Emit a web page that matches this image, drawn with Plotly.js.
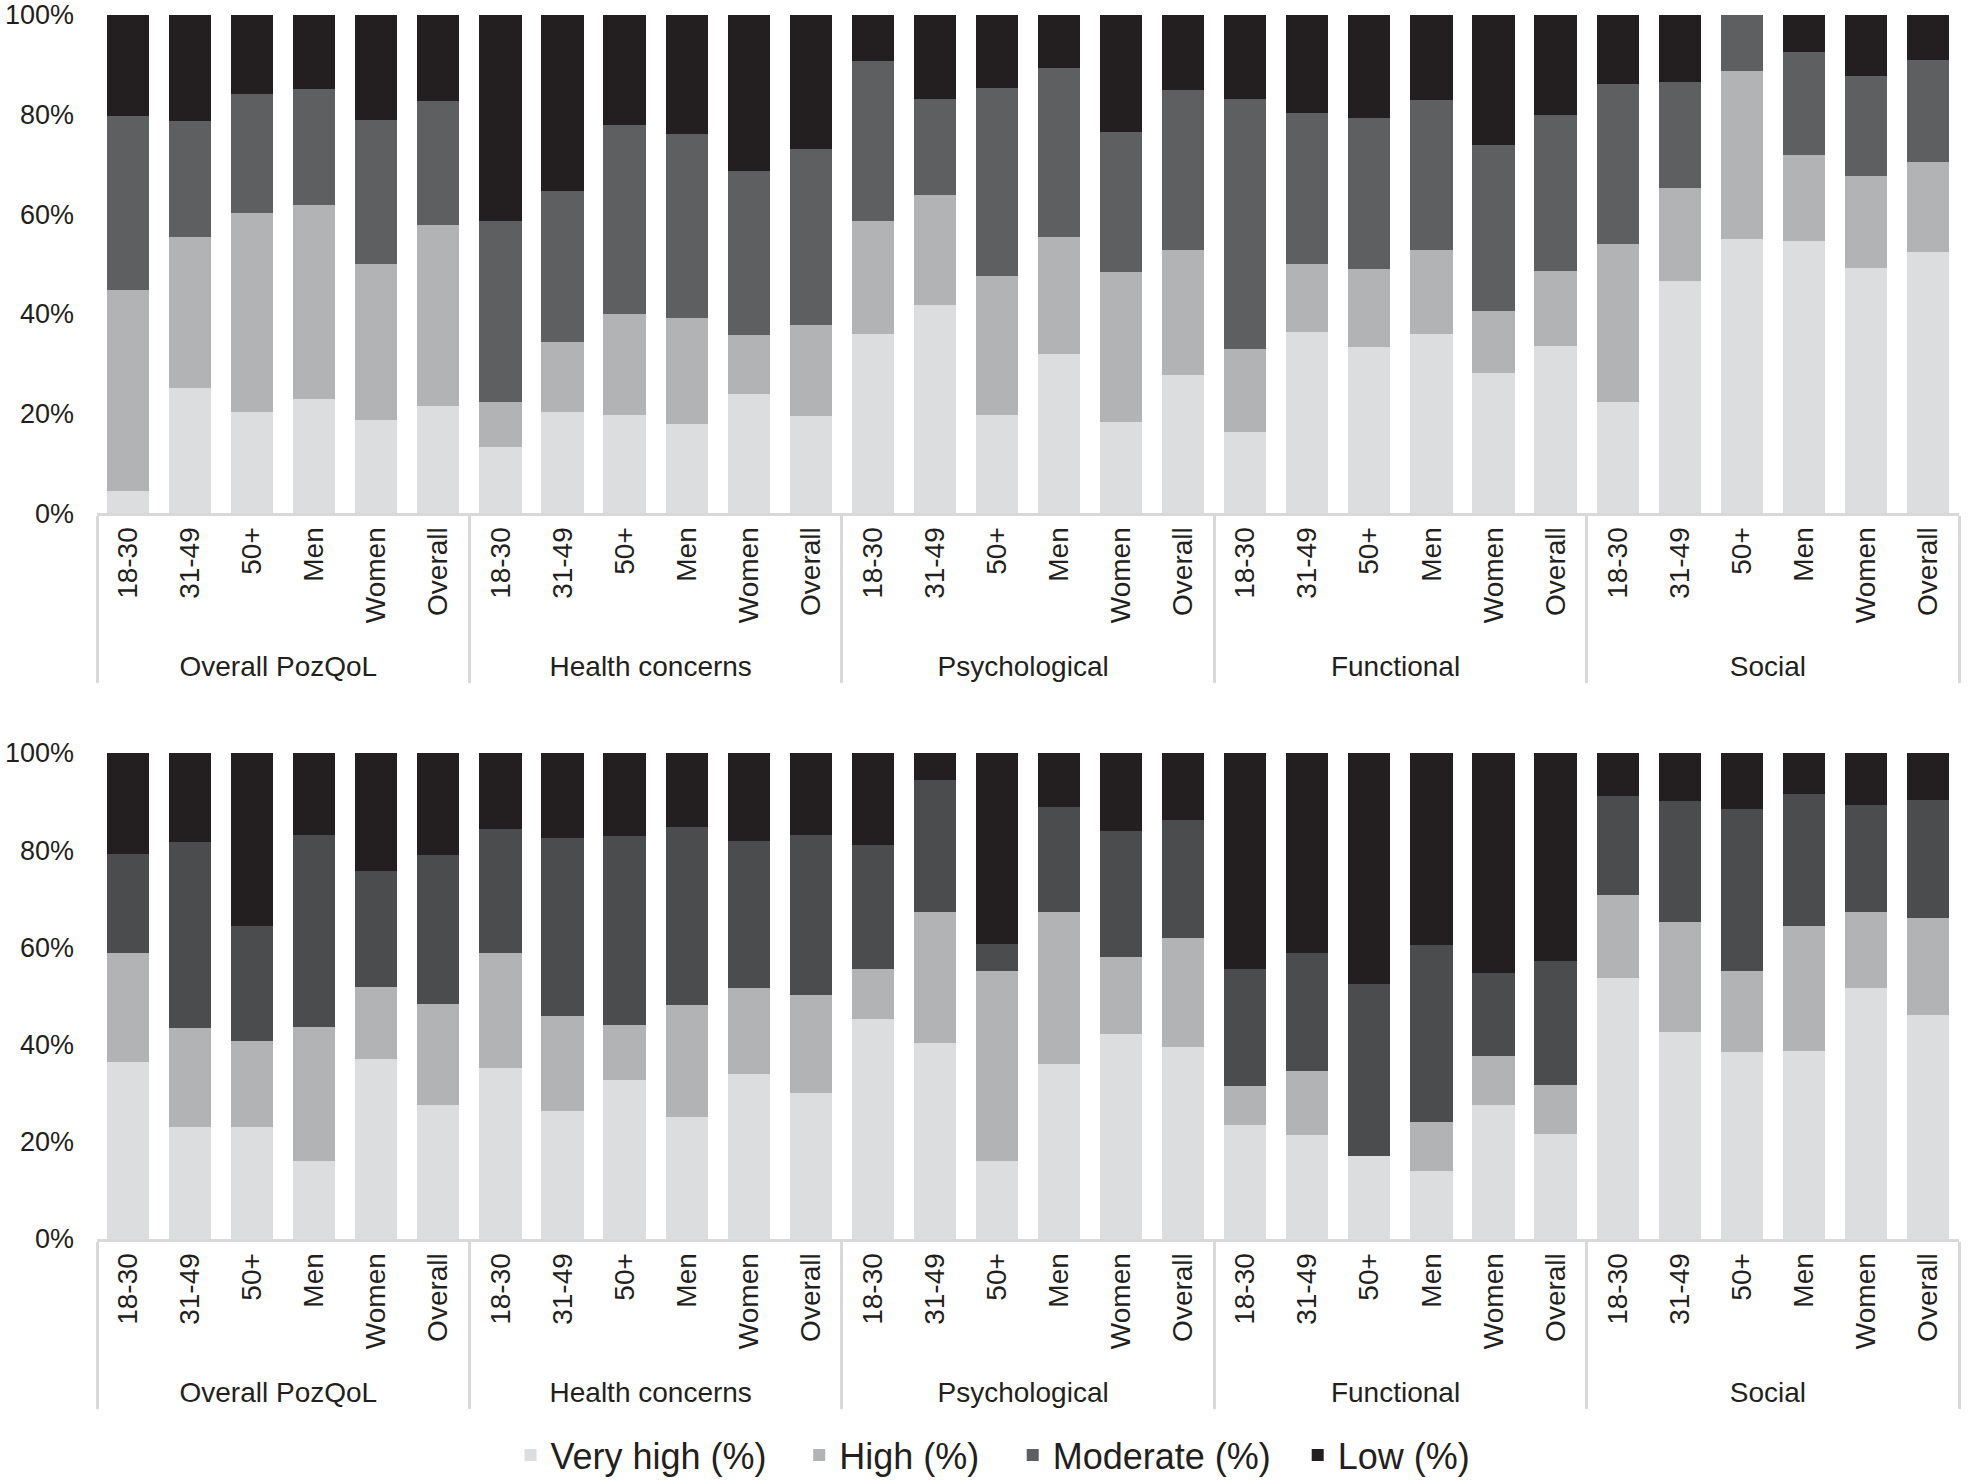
<!DOCTYPE html>
<html>
<head>
<meta charset="utf-8">
<script src="https://cdn.plot.ly/plotly-3.0.1.min.js"></script>
<style>
  html, body { margin: 0; padding: 0; background: #fff; }
  #chart { width: 1968px; height: 1480px; }
</style>
</head>
<body>
<div id="chart"></div>
<script>
// PozQoL levels by domain and subgroup, two panels (top / bottom)

const domains = ['Overall PozQoL', 'Health concerns', 'Psychological', 'Functional', 'Social'];
const subgroups = ['18-30', '31-49', '50+', 'Men', 'Women', 'Overall'];
const levels = ['Very high (%)', 'High (%)', 'Moderate (%)', 'Low (%)'];
const yTicks = [0, 20, 40, 60, 80, 100];

// top panel
const veryHighTop = [4.4, 25.2, 20.3, 22.9, 18.7, 21.4, 13.2, 20.3, 19.6, 17.8, 23.9, 19.4, 36.0, 41.7, 19.6, 32.0, 18.3, 27.7, 16.2, 36.4, 33.4, 36.0, 28.1, 33.6, 22.2, 46.5, 55.1, 54.7, 49.3, 52.5];
const highTop = [40.3, 30.3, 39.9, 39.0, 31.4, 36.5, 9.0, 14.1, 20.4, 21.4, 11.9, 18.4, 22.7, 22.1, 27.9, 23.5, 30.0, 25.2, 16.8, 13.7, 15.7, 16.9, 12.4, 15.1, 31.9, 18.8, 33.6, 17.1, 18.3, 17.9];
const moderateTop = [35.0, 23.2, 23.9, 23.2, 28.8, 24.8, 36.5, 30.3, 38.0, 36.9, 32.8, 35.2, 32.0, 19.3, 37.8, 33.8, 28.3, 32.0, 50.1, 30.2, 30.2, 30.0, 33.3, 31.2, 32.0, 21.2, 11.3, 20.7, 20.1, 20.5];
const lowTop = [20.3, 21.3, 15.9, 14.9, 21.1, 17.3, 41.3, 35.3, 22.0, 23.9, 31.4, 27.0, 9.3, 16.9, 14.7, 10.7, 23.4, 15.1, 16.9, 19.7, 20.7, 17.1, 26.2, 20.1, 13.9, 13.5, 0, 7.5, 12.3, 9.1];

// bottom panel
const veryHighBottom = [36.4, 23.0, 23.0, 16.0, 37.1, 27.6, 35.2, 26.4, 32.8, 25.1, 33.9, 30.0, 45.2, 40.3, 16.0, 36.0, 42.2, 39.5, 23.4, 21.4, 17.0, 13.9, 27.6, 21.6, 53.7, 42.6, 38.4, 38.6, 51.6, 46.1];
const highBottom = [22.4, 20.4, 17.7, 27.6, 14.7, 20.7, 23.6, 19.5, 11.2, 23.0, 17.7, 20.2, 10.3, 27.0, 39.1, 31.3, 15.8, 22.4, 8.1, 13.1, 0, 10.1, 10.0, 10.1, 17.1, 22.6, 16.7, 25.8, 15.7, 19.9];
const moderateBottom = [20.4, 38.3, 23.7, 39.5, 23.9, 30.7, 25.5, 36.6, 38.9, 36.7, 30.3, 32.9, 25.6, 27.1, 5.6, 21.6, 25.9, 24.3, 24.0, 24.3, 35.5, 36.5, 17.1, 25.5, 20.4, 24.9, 33.3, 27.2, 22.0, 24.3];
const lowBottom = [20.8, 18.3, 35.6, 16.9, 24.3, 21.0, 15.7, 17.5, 17.1, 15.2, 18.1, 16.9, 18.9, 5.6, 39.3, 11.1, 16.1, 13.8, 44.5, 41.2, 47.5, 39.5, 45.3, 42.8, 8.8, 9.9, 11.6, 8.4, 10.7, 9.7];

const colorsTop = ['#dcdddf', '#b2b3b5', '#5e5f61', '#231f20'];
const colorsBottom = ['#dcdddf', '#b2b3b5', '#4b4c4e', '#231f20'];

// one legend box per level so the entries can sit where the reference puts them
const legendIds = ['legend', 'legend2', 'legend3', 'legend4'];
const legendX = [0.2594, 0.4061, 0.5146, 0.6594];

// multicategory x: [outer, inner]
const outer = [], inner = [];
domains.forEach(d => subgroups.forEach(s => { outer.push(d); inner.push(s); }));

function makeTraces(series, colors, xa, ya, legend) {
    return series.map((vals, i) => ({
        type: 'bar',
        x: [outer, inner],
        y: vals,
        name: levels[i],
        xaxis: xa,
        yaxis: ya,
        marker: { color: colors[i], line: { width: 0 } },
        legend: legendIds[i],
        showlegend: legend,
        hoverinfo: 'skip'
    }));
}

const data = [
    ...makeTraces([veryHighTop, highTop, moderateTop, lowTop], colorsTop, 'x', 'y', true),
    ...makeTraces([veryHighBottom, highBottom, moderateBottom, lowBottom], colorsBottom, 'x2', 'y2', false)
];

const font = '"Liberation Sans", Arial, sans-serif';

const xCommon = {
    type: 'multicategory',
    showline: true,
    linecolor: '#d9d9d9',
    linewidth: 3,
    showdividers: true,
    dividercolor: '#d9d9d9',
    dividerwidth: 3,
    ticks: '',
    tickangle: -90,
    tickfont: { family: font, size: 28, color: '#231f20' },
    showgrid: false,
    zeroline: false,
    fixedrange: true
};

const yCommon = {
    range: [0, 100],
    tickmode: 'array',
    tickvals: yTicks,
    ticktext: yTicks.map(v => v + '%'),
    ticks: '',
    showgrid: false,
    zeroline: false,
    showline: false,
    ticklabelstandoff: 22,
    ticklabeloverflow: 'allow',
    tickfont: { family: font, size: 27, color: '#231f20' },
    fixedrange: true
};

const layout = {
    width: 1968,
    height: 1480,
    barmode: 'stack',
    bargap: 0.32,
    paper_bgcolor: '#ffffff',
    plot_bgcolor: '#ffffff',
    margin: { l: 97, r: 9, t: 15, b: 241 },
    xaxis: Object.assign({}, xCommon, { anchor: 'y' }),
    yaxis: Object.assign({}, yCommon, { domain: [0.5931, 1], anchor: 'x' }),
    xaxis2: Object.assign({}, xCommon, { anchor: 'y2' }),
    yaxis2: Object.assign({}, yCommon, { domain: [0, 0.3971], anchor: 'x2' }),
    showlegend: true
};

legendIds.forEach((id, i) => {
    layout[id] = {
        orientation: 'h',
        x: legendX[i],
        xanchor: 'left',
        xref: 'container',
        y: 0.0169,
        yanchor: 'middle',
        yref: 'container',
        font: { family: font, size: 36, color: '#231f20' },
        bgcolor: 'rgba(0,0,0,0)'
    };
});

Plotly.newPlot('chart', data, layout, { displayModeBar: false, staticPlot: true });
</script>
</body>
</html>
